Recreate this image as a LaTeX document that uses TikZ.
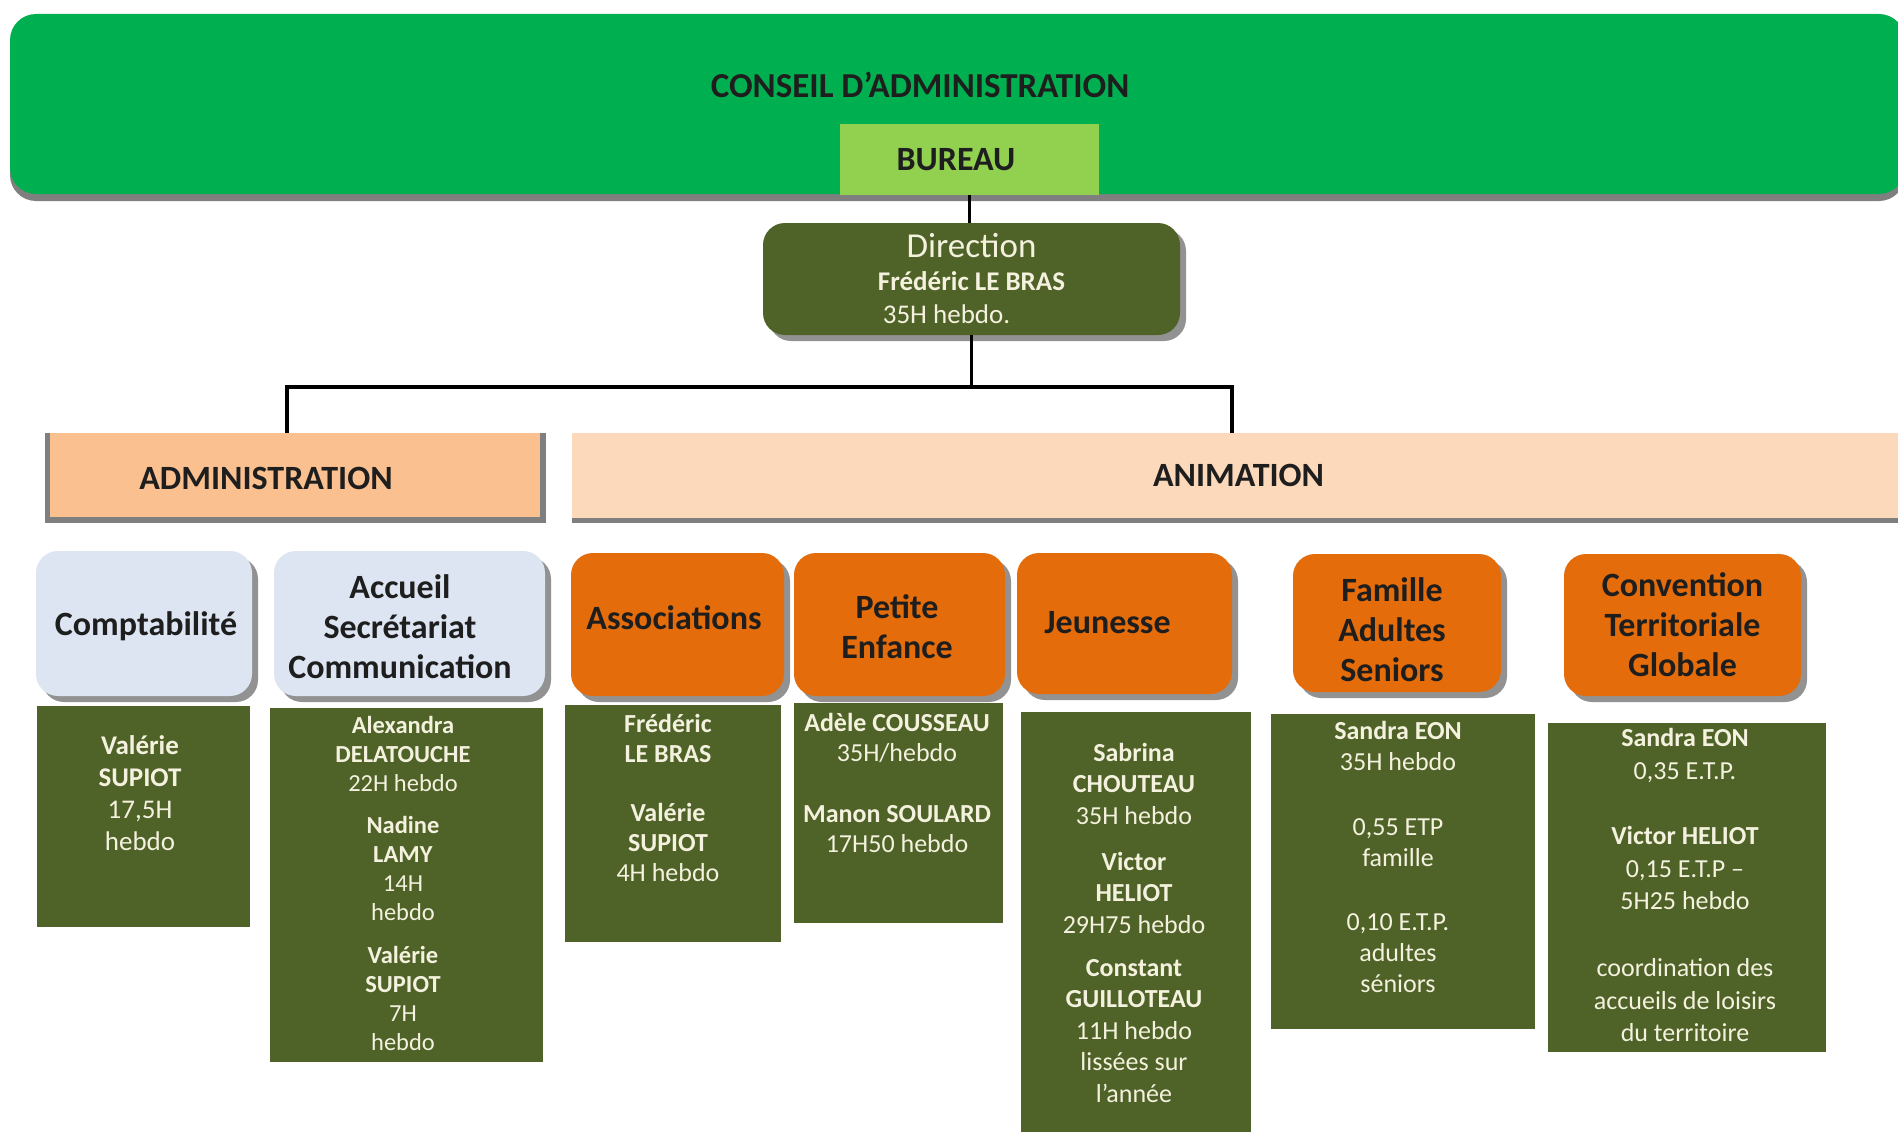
\documentclass[tikz,border=0pt]{standalone}
\usepackage{fontspec}
\setmainfont{Carlito}
\usetikzlibrary{shadows}
\definecolor{cagreen}{HTML}{00B050}
\definecolor{bureaugreen}{HTML}{92D050}
\definecolor{olivebox}{HTML}{4F6228}
\definecolor{cream}{HTML}{F4F2DE}
\definecolor{peachA}{HTML}{FAC090}
\definecolor{peachB}{HTML}{FCD9BA}
\definecolor{paleblue}{HTML}{DCE5F1}
\definecolor{orangeboxcol}{HTML}{E46C0A}
\definecolor{shadowgray}{HTML}{7F7F7F}
\definecolor{darktext}{HTML}{1E1E1E}
\begin{document}
\begin{tikzpicture}[x=1pt,y=-1pt,
  every node/.style={inner sep=0pt, outer sep=0pt},
  boxshadow/.style={drop shadow={shadow xshift=6pt, shadow yshift=-6pt, fill=shadowgray, opacity=0.85}},
  headfont/.style={font=\fontsize{34}{40}\selectfont\bfseries, text=darktext},
  catbox/.style={rounded corners=22pt, boxshadow},
  catlabel/.style={headfont, align=center},
  bluebox/.style={catbox, fill=paleblue},
  orangebox/.style={catbox, fill=orangeboxcol},
  staffbox/.style={fill=olivebox},
  stafftext/.style={anchor=north, align=center, text=cream},
  link/.style={line width=3.5pt, draw=black}
]
\useasboundingbox (0,0) rectangle (1898,1132);
\clip (0,0) rectangle (1898,1132);
\fill[white] (0,0) rectangle (1898,1132);

% top banner
\node[fill=cagreen, rounded corners=26pt, minimum width=1895pt, minimum height=180pt,
  drop shadow={shadow xshift=0pt, shadow yshift=-7pt, fill=shadowgray, opacity=1}] (ca) at (957.5,104) {};
\node[font=\fontsize{35}{40}\selectfont\bfseries, text=darktext] (catext) at (920,85) {CONSEIL D'ADMINISTRATION};
\node[fill=bureaugreen, minimum width=259pt, minimum height=71pt] (bureau) at (969.5,159.5) {};
\node[headfont] (bureaulabel) at (956,160) {BUREAU};

% direction
\node[fill=olivebox, rounded corners=22pt, boxshadow, minimum width=417pt, minimum height=112pt,
  align=center, text=cream, font=\fontsize{27}{33}\selectfont] (direction) at (971.5,279)
  {{\fontsize{35}{33}\selectfont Direction}\\ \textbf{Frédéric LE BRAS}\\ 35H hebdo.\hspace*{50pt}};

% administration / animation
\fill[shadowgray] (45,433) rectangle (546,523);
\node[fill=peachA, minimum width=490pt, minimum height=84pt] (admin) at (295,475) {};
\node[headfont] (adminlabel) at (266,478) {ADMINISTRATION};
\fill[shadowgray] (572,440) rectangle (1905,523);
\node[fill=peachB, minimum width=1333pt, minimum height=85pt, headfont] (anim) at (1238.5,475.5) {ANIMATION};

% categories
\node[bluebox, minimum width=216pt, minimum height=145pt] (compta) at (144,623.5) {};
\node[catlabel] (comptalabel) at (146,626) {Comptabilité};
\node[bluebox, minimum width=271pt, minimum height=145pt] (accueil) at (409.5,623.5) {};
\node[catlabel] (accueillabel) at (400,627) {Accueil\\Secrétariat\\Communication};
\node[orangebox, minimum width=213pt, minimum height=143pt] (assoc) at (677.5,624.5) {};
\node[catlabel] (assoclabel) at (674,617.5) {Associations};
\node[orangebox, minimum width=211pt, minimum height=143pt] (petite) at (899.5,624.5) {};
\node[catlabel] (petitelabel) at (897,627) {Petite\\Enfance};
\node[orangebox, minimum width=215pt, minimum height=141pt] (jeun) at (1124.5,623.5) {};
\node[catlabel] (jeunlabel) at (1107.5,622.5) {Jeunesse};
\node[orangebox, minimum width=208pt, minimum height=138pt] (famille) at (1397,623) {};
\node[catlabel] (famillelabel) at (1392,630) {Famille\\Adultes\\Seniors};
\node[orangebox, minimum width=237pt, minimum height=142pt] (conv) at (1682.5,625) {};
\node[catlabel] (convlabel) at (1682.5,625) {Convention\\Territoriale\\Globale};

% staff boxes
\node[staffbox, minimum width=213pt, minimum height=221pt] (s1) at (143.5,816.5) {};
\node[stafftext, font=\fontsize{27}{32}\selectfont] (t1) at (140,732)
  {\strut\textbf{Valérie}\\\textbf{SUPIOT}\\17,5H\\hebdo};

\node[staffbox, minimum width=273pt, minimum height=354pt] (s2) at (406.5,885) {};
\node[stafftext, font=\fontsize{24.5}{29}\selectfont] (t2) at (403,713)
  {\strut\textbf{Alexandra}\\\textbf{DELATOUCHE}\\22H hebdo\\[13pt]\textbf{Nadine}\\\textbf{LAMY}\\14H\\hebdo\\[14pt]\textbf{Valérie}\\\textbf{SUPIOT}\\7H\\hebdo};

\node[staffbox, minimum width=216pt, minimum height=237pt] (s3) at (673,823.5) {};
\node[stafftext, font=\fontsize{26}{30}\selectfont] (t3) at (668,711)
  {\strut\textbf{Frédéric}\\\textbf{LE BRAS}\\[29pt]\textbf{Valérie}\\\textbf{SUPIOT}\\4H hebdo};

\node[staffbox, minimum width=209pt, minimum height=220pt] (s4) at (898.5,813) {};
\node[stafftext, font=\fontsize{26}{30}\selectfont] (t4) at (897,710)
  {\strut\textbf{Adèle COUSSEAU}\\35H/hebdo\\[31pt]\textbf{Manon SOULARD}\\17H50 hebdo};

\node[staffbox, minimum width=230pt, minimum height=428pt] (s5) at (1136,926) {};
\node[stafftext, font=\fontsize{26}{31.5}\selectfont] (t5) at (1134,739)
  {\strut\textbf{Sabrina}\\\textbf{CHOUTEAU}\\35H hebdo\\[14.5pt]\textbf{Victor}\\\textbf{HELIOT}\\29H75 hebdo\\[11.5pt]\textbf{Constant}\\\textbf{GUILLOTEAU}\\11H hebdo\\lissées sur\\l'année};

\node[staffbox, minimum width=264pt, minimum height=315pt] (s6) at (1403,871.5) {};
\node[stafftext, font=\fontsize{26}{31}\selectfont] (t6) at (1398,718)
  {\strut\textbf{Sandra EON}\\35H hebdo\\[34pt]0,55 ETP\\famille\\[33pt]0,10 E.T.P.\\adultes\\séniors};

\node[staffbox, minimum width=278pt, minimum height=329pt] (s7) at (1687,887.5) {};
\node[stafftext, font=\fontsize{26}{32.5}\selectfont] (t7) at (1685,724)
  {\strut\textbf{Sandra EON}\\0,35 E.T.P.\\[33pt]\textbf{Victor HELIOT}\\0,15 E.T.P –\\5H25 hebdo\\[34.5pt]coordination des\\accueils de loisirs\\du territoire};

% connectors
\coordinate (jl) at (287,387);
\coordinate (jr) at (1232,387);
\draw[link] (bureau.south) -- (bureau.south |- direction.north);
\draw[link] (direction.south) -- (direction.south |- jl);
\draw[link] (jl |- admin.north) -- (jl) -- (jr) -- (jr |- anim.north);
\end{tikzpicture}
\end{document}
